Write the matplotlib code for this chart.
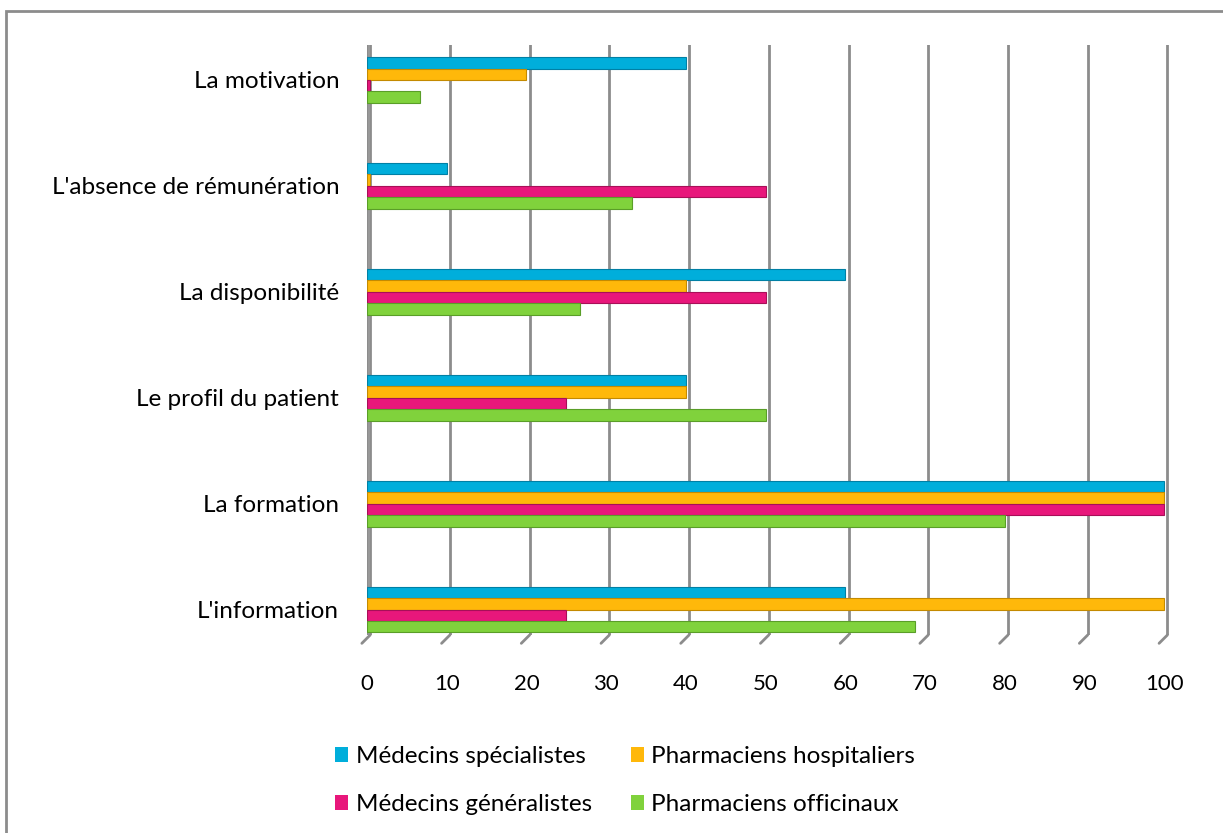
import matplotlib
matplotlib.use("Agg")
import matplotlib.pyplot as plt
from matplotlib.patches import Rectangle, Patch
import numpy as np

plt.rcParams['font.family'] = ['Lato', 'DejaVu Sans']

categories = ["L'information", "La formation", "Le profil du patient",
              "La disponibilité", "L'absence de rémunération", "La motivation"]
series = ["Médecins spécialistes", "Pharmaciens hospitaliers",
          "Médecins généralistes", "Pharmaciens officinaux"]
specialistes = [60, 100, 40, 60, 10, 40]
hospitaliers = [100, 100, 40, 40, 0.4, 20]
generalistes = [25, 100, 25, 50, 50, 0.4]
officinaux = [68.8, 80, 50, 26.7, 33.3, 6.7]
xticks = [0, 10, 20, 30, 40, 50, 60, 70, 80, 90, 100]

colors = ['#00AEDB', '#FFB80A', '#E8177B', '#80D23C']
edges = ['#0080A5', '#C48A00', '#A80F58', '#5A9E28']
values = [specialistes, hospitaliers, generalistes, officinaux]

W, H = 1223, 833
fig = plt.figure(figsize=(W / 100, H / 100), dpi=100)
ax = fig.add_axes([367 / W, 1 - 635 / H, 802 / W, 590 / H])

# outer frame (only left + top visible in the original)
fig.patches.append(Rectangle((6 / W, -0.05), 1.2, 1 - 11 / H + 0.05,
                             transform=fig.transFigure, fill=False,
                             edgecolor='#8c8c8c', linewidth=2))

y = np.arange(len(categories))
h = 0.108
offsets = [1.5 * h, 0.5 * h, -0.5 * h, -1.5 * h]
for vals, off, c, e in zip(values, offsets, colors, edges):
    ax.barh(y + off, vals, height=h, color=c, edgecolor=e, linewidth=0.8, zorder=3)

# gridlines with a small diagonal foot (fake 3D floor)
for xv in xticks:
    ax.axvline(xv + 0.4, color='#8c8c8c', linewidth=2, zorder=1)
    ax.annotate('', xy=(xv + 0.4, 0), xycoords=ax.get_xaxis_transform(),
                xytext=(-6, -6), textcoords='offset points',
                arrowprops=dict(arrowstyle='-', color='#8c8c8c', lw=2,
                                shrinkA=0, shrinkB=0))
ax.axvline(0, color='#8c8c8c', linewidth=2, zorder=1)

ax.set_xlim(0, 100.6)
ax.set_ylim(-0.24, 5.33)
ax.set_xticks(xticks)
ax.set_yticks(y)
ax.set_yticklabels(categories)
ax.tick_params(axis='x', length=0, pad=28, labelsize=16)
ax.tick_params(axis='y', length=0, pad=20, labelsize=17.5)
for s in ax.spines.values():
    s.set_visible(False)

handles = [Patch(facecolor=colors[i], edgecolor='none') for i in [0, 2, 1, 3]]
labels = [series[i] for i in [0, 2, 1, 3]]
fig.legend(handles, labels, ncol=2, loc='center', bbox_to_anchor=(0.511, 0.063),
           frameon=False, fontsize=17.5, handlelength=0.55, handleheight=0.55,
           handletextpad=0.3, columnspacing=1.6, labelspacing=1.1)

fig.savefig("out.png", dpi=100)
